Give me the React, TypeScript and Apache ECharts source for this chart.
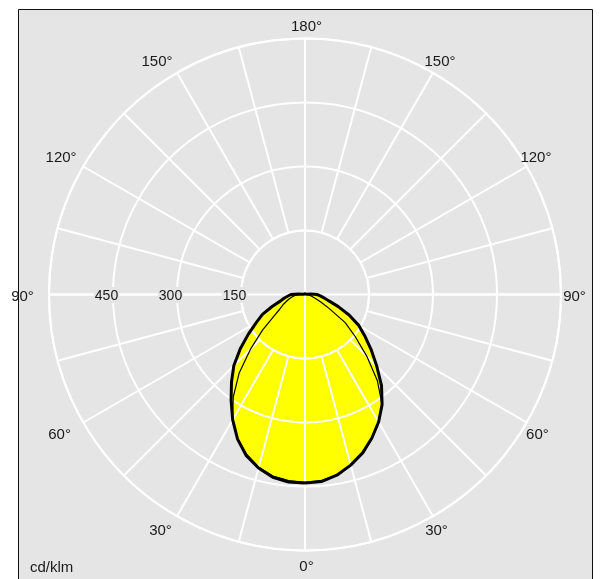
import React, { useEffect, useRef } from "react";
import * as echarts from "echarts";

// Polar angles (degrees from nadir) at which intensities were read
const ANGLES = [
  0, 5, 10, 15, 20, 25, 30, 35, 40, 45, 50, 55, 60, 65, 70, 75, 80, 85, 90,
  95, 100, 105, 110, 115, 120, 125, 130, 135, 140, 145, 150, 155, 160, 165, 170, 175, 180,
];

// Thick curve (cd/klm), left half and right half
const THICK_LEFT = [
  442, 441, 435, 421, 402, 374, 339, 302, 268, 236, 198, 162, 132, 110, 82, 60, 50, 40, 33,
  15, 5, 2, 2, 2, 2, 2, 2, 2, 2, 2, 2, 2, 2, 2, 2, 2, 2,
];
const THICK_RIGHT = [
  442, 440, 430, 414, 395, 371, 345, 315, 279, 238, 203, 172, 146, 114, 83, 58, 45, 36, 28,
  14, 5, 2, 2, 2, 2, 2, 2, 2, 2, 2, 2, 2, 2, 2, 2, 2, 2,
];

// Thin curve (cd/klm), left half and right half
const THIN_LEFT = [
  440, 438, 432, 419, 399, 373, 340, 293, 240, 180, 130, 90, 68, 57, 46, 38, 30, 22, 14,
  8, 4, 2, 2, 2, 2, 2, 2, 2, 2, 2, 2, 2, 2, 2, 2, 2, 2,
];
const THIN_RIGHT = [
  440, 438, 430, 415, 397, 372, 346, 315, 264, 205, 154, 115, 65, 40, 24, 16, 11, 8, 6,
  4, 3, 2, 2, 2, 2, 2, 2, 2, 2, 2, 2, 2, 2, 2, 2, 2, 2,
];

const RADIUS_MIN = 150;
const RADIUS_MAX = 600;
const RADIUS_STEP = 150;
const RADIUS_LABELS: Record<number, string> = { 150: "150", 300: "300", 450: "450" };
const UNIT = "cd/klm";

const FONT = '"Liberation Sans Narrow", "Liberation Sans", Arial, sans-serif';
const TEXT = "#1a1a1a";
const PANEL = "#e5e5e5";

function closedCurve(left: number[], right: number[]): number[][] {
  const pts: number[][] = [];
  ANGLES.forEach((a, i) => pts.push([left[i], a]));
  for (let i = ANGLES.length - 1; i >= 0; i--) pts.push([right[i], 360 - ANGLES[i]]);
  return pts;
}

function angleLabel(v: number): string {
  // label polar: 0 = left (90°), values run clockwise
  let t: number;
  if (v <= 90) t = 90 + v;
  else if (v <= 270) t = 270 - v;
  else t = v - 270;
  const style =
    t === 90 ? "s90" : t === 150 ? "s150" : t === 30 ? "s30" : t === 60 ? "s60" : t === 0 ? "s0" : t === 180 ? "s180" : "s3";
  return "{" + style + "|" + t + "°}";
}

export default function App() {
  const ref = useRef<HTMLDivElement>(null);

  useEffect(() => {
    if (!ref.current) return;
    const chart = echarts.init(ref.current, null, { renderer: "svg" });
    const thick = closedCurve(THICK_LEFT, THICK_RIGHT);
    const thin = closedCurve(THIN_LEFT, THIN_RIGHT);
    const center = [305, 294.5];
    const labelCenter = [298.5, 295];
    const tokenBase = { fontFamily: FONT, fontSize: 15, color: TEXT, align: "center", lineHeight: 15 };

    chart.setOption({
      animation: false,
      graphic: [
        {
          type: "rect",
          z: -10,
          silent: true,
          shape: { x: 18.5, y: 9.5, width: 574, height: 600 },
          style: { fill: PANEL, stroke: "#111", lineWidth: 1 },
        },
      ],
      title: {
        text: UNIT,
        left: 25,
        bottom: 0,
        textStyle: { fontFamily: FONT, fontSize: 15, fontWeight: "normal", color: TEXT },
      },
      polar: [
        { center, radius: 256 },
        { center, radius: [64, 256] },
        { center: labelCenter, radius: 256 },
      ],
      angleAxis: [
        {
          polarIndex: 0,
          type: "value",
          min: 0,
          max: 360,
          interval: 90,
          startAngle: 270,
          clockwise: true,
          z: 2,
          axisLine: { show: false },
          axisTick: { show: false },
          axisLabel: { show: false },
          splitLine: { show: true, lineStyle: { color: "#fff", width: 2 } },
        },
        {
          polarIndex: 1,
          type: "value",
          min: 0,
          max: 360,
          interval: 15,
          startAngle: 180,
          clockwise: true,
          z: 2,
          axisLine: { show: true, lineStyle: { color: "#fff", width: 2 } },
          axisTick: { show: false },
          axisLabel: { show: false },
          splitLine: { show: true, lineStyle: { color: "#fff", width: 2 } },
        },
        {
          polarIndex: 2,
          type: "value",
          min: 0,
          max: 360,
          interval: 30,
          startAngle: 180,
          clockwise: true,
          z: 3,
          axisLine: { show: false },
          axisTick: { show: false },
          splitLine: { show: false },
          axisLabel: {
            show: true,
            margin: 6,
            formatter: (v: number) => angleLabel(v),
            color: TEXT,
            fontSize: 15,
            fontFamily: FONT,
            rich: {
              s90: { ...tokenBase, width: 14, padding: [0, 7, 0, 7] },
              s150: { ...tokenBase, width: 21, padding: [5, 0, 5, 0] },
              s30: { ...tokenBase, width: 14, padding: [4, 0, 4, 0] },
              s60: { ...tokenBase, width: 14, padding: [0, 5, 0, 5] },
              s0: { ...tokenBase, width: 9, padding: [2, 0, 0, 16] },
              s180: { ...tokenBase, width: 21, padding: [0, 0, 0, 16] },
              s3: { ...tokenBase, width: 21 },
            },
          },
        },
      ],
      radiusAxis: [
        {
          polarIndex: 0,
          type: "value",
          min: 0,
          max: RADIUS_MAX,
          z: 2,
          axisLine: { show: false },
          axisTick: { show: false },
          axisLabel: { show: false },
          splitLine: { show: false },
        },
        {
          polarIndex: 1,
          type: "value",
          min: RADIUS_MIN,
          max: RADIUS_MAX,
          interval: RADIUS_STEP,
          z: 2,
          axisLine: { show: false },
          axisTick: { show: false },
          axisLabel: { show: false },
          splitLine: { show: true, lineStyle: { color: "#fff", width: 2 } },
        },
        {
          polarIndex: 2,
          type: "value",
          min: 0,
          max: RADIUS_MAX,
          interval: RADIUS_STEP,
          z: 3,
          axisLine: { show: false },
          axisTick: { show: false },
          splitLine: { show: false },
          axisLabel: {
            show: true,
            margin: 0,
            align: "center",
            verticalAlign: "middle",
            backgroundColor: PANEL,
            padding: [1, 1, 1, 1],
            color: TEXT,
            fontSize: 14,
            fontFamily: FONT,
            formatter: (v: number) => RADIUS_LABELS[v] ?? "",
          },
        },
      ],
      series: [
        {
          type: "line",
          coordinateSystem: "polar",
          polarIndex: 0,
          data: thick,
          symbol: "none",
          z: 1,
          lineStyle: { width: 0, opacity: 0 },
          areaStyle: { color: "#ffff00", opacity: 1 },
          silent: true,
        },
        {
          type: "line",
          coordinateSystem: "polar",
          polarIndex: 0,
          data: thin,
          symbol: "none",
          z: 1,
          lineStyle: { width: 0, opacity: 0 },
          areaStyle: { color: "#ffff00", opacity: 1 },
          silent: true,
        },
        {
          type: "line",
          coordinateSystem: "polar",
          polarIndex: 0,
          data: thin,
          symbol: "none",
          z: 5,
          lineStyle: { width: 1.2, color: "#000" },
        },
        {
          type: "line",
          coordinateSystem: "polar",
          polarIndex: 0,
          data: thick,
          symbol: "none",
          z: 6,
          lineStyle: { width: 3, color: "#000" },
        },
      ],
    });
    return () => chart.dispose();
  }, []);

  return (
    <div
      ref={ref}
      style={{ position: "fixed", left: 0, top: 0, width: 600, height: 579 }}
    />
  );
}
